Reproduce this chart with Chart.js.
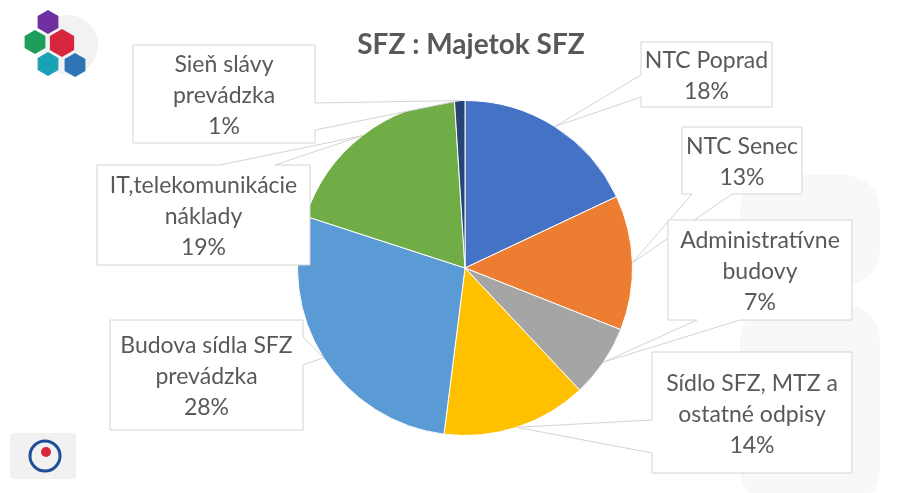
<!DOCTYPE html>
<html lang="sk">
<head>
    <meta charset="UTF-8">
    <title>SFZ : Majetok SFZ</title>
    <script src="https://cdn.jsdelivr.net/npm/chart.js"></script>
    <style>
        html, body {
            margin: 0;
            padding: 0;
            background: #ffffff;
        }
        #graf {
            display: block;
        }
    </style>
</head>
<body>
    <canvas id="graf" width="897" height="493"></canvas>

    <script>
        // Dáta grafu
        const kategorie = [
            ['NTC Poprad'],
            ['NTC Senec'],
            ['Administratívne', 'budovy'],
            ['Sídlo SFZ, MTZ a', 'ostatné odpisy'],
            ['Budova sídla SFZ', 'prevádzka'],
            ['IT,telekomunikácie', 'náklady'],
            ['Sieň slávy', 'prevádzka']
        ];
        const hodnoty = [18, 13, 7, 14, 28, 19, 1];
        const farby = ['#4472C4', '#ED7D31', '#A5A5A5', '#FFC000', '#5B9BD5', '#70AD47', '#264478'];

        // Rozmiestnenie popisiek (box x0, y0, x1, y1, strana so šípkou, začiatok a koniec základne)
        const popisky = [
            { box: [641, 42, 772, 107],  strana: 'left',   od: 75,  po: 97 },
            { box: [682, 127, 802, 194], strana: 'bottom', od: 692, po: 732 },
            { box: [668, 220, 852, 320], strana: 'bottom', od: 697, po: 740 },
            { box: [652, 352, 852, 473], strana: 'left',   od: 420, po: 453 },
            { box: [110, 320, 303, 430], strana: 'right',  od: 337, po: 365 },
            { box: [97, 165, 310, 265],  strana: 'top',    od: 220, po: 275 },
            { box: [133, 45, 315, 143],  strana: 'right',  od: 103, po: 130 }
        ];

        const pismo = 'Lato, "DejaVu Sans", sans-serif';
        const sedaText = '#595959';

        function hexagon(ctx, x, y, r, farba) {
            ctx.beginPath();
            for (let i = 0; i < 6; i++) {
                const a = Math.PI / 6 + i * Math.PI / 3;
                const px = x + r * Math.cos(a);
                const py = y + r * Math.sin(a);
                if (i === 0) ctx.moveTo(px, py); else ctx.lineTo(px, py);
            }
            ctx.closePath();
            ctx.fillStyle = farba;
            ctx.fill();
        }

        // Pozadie, logá a nadpis
        const pozadie = {
            id: 'pozadie',
            beforeDraw(chart) {
                const ctx = chart.ctx;
                ctx.save();
                ctx.fillStyle = '#ffffff';
                ctx.fillRect(0, 0, chart.width, chart.height);

                // jemný vodoznak vpravo
                ctx.fillStyle = '#f8f8f8';
                [[740, 175, 140, 110], [740, 305, 140, 200]].forEach(r => {
                    ctx.beginPath();
                    ctx.roundRect(r[0], r[1], r[2], r[3], 35);
                    ctx.fill();
                });

                // logo vľavo hore
                ctx.fillStyle = '#f2f2f2';
                ctx.beginPath();
                ctx.arc(68, 45, 30, 0, Math.PI * 2);
                ctx.fill();
                hexagon(ctx, 48, 22, 12, '#7030A0');
                hexagon(ctx, 35, 42, 12, '#1E9E5A');
                hexagon(ctx, 62, 43, 14, '#D7263D');
                hexagon(ctx, 48, 64, 12, '#1BA3B5');
                hexagon(ctx, 75, 65, 12, '#2E75B6');

                // logo vľavo dole
                ctx.fillStyle = '#f1f1f1';
                ctx.beginPath();
                ctx.roundRect(10, 433, 66, 46, 4);
                ctx.fill();
                ctx.strokeStyle = '#1F4E9A';
                ctx.lineWidth = 3;
                ctx.beginPath();
                ctx.arc(45, 456, 15, 0, Math.PI * 2);
                ctx.stroke();
                ctx.fillStyle = '#D7263D';
                ctx.beginPath();
                ctx.arc(46, 452, 5, 0, Math.PI * 2);
                ctx.fill();

                // nadpis
                ctx.fillStyle = sedaText;
                ctx.font = 'bold 28px ' + pismo;
                ctx.textAlign = 'center';
                ctx.textBaseline = 'alphabetic';
                ctx.fillText('SFZ : Majetok SFZ', 471, 54);
                ctx.restore();
            }
        };

        // Popisky s výbežkom k výsekom
        const bubliny = {
            id: 'bubliny',
            afterDatasetsDraw(chart) {
                const ctx = chart.ctx;
                const oblúky = chart.getDatasetMeta(0).data;
                ctx.save();
                oblúky.forEach((arc, i) => {
                    const p = popisky[i];
                    const uhol = (arc.startAngle + arc.endAngle) / 2;
                    const tx = arc.x + arc.outerRadius * Math.cos(uhol);
                    const ty = arc.y + arc.outerRadius * Math.sin(uhol);
                    const [x0, y0, x1, y1] = p.box;

                    ctx.beginPath();
                    ctx.moveTo(x0, y0);
                    if (p.strana === 'top') { ctx.lineTo(p.od, y0); ctx.lineTo(tx, ty); ctx.lineTo(p.po, y0); }
                    ctx.lineTo(x1, y0);
                    if (p.strana === 'right') { ctx.lineTo(x1, p.od); ctx.lineTo(tx, ty); ctx.lineTo(x1, p.po); }
                    ctx.lineTo(x1, y1);
                    if (p.strana === 'bottom') { ctx.lineTo(p.po, y1); ctx.lineTo(tx, ty); ctx.lineTo(p.od, y1); }
                    ctx.lineTo(x0, y1);
                    if (p.strana === 'left') { ctx.lineTo(x0, p.po); ctx.lineTo(tx, ty); ctx.lineTo(x0, p.od); }
                    ctx.closePath();
                    ctx.fillStyle = '#ffffff';
                    ctx.fill();
                    ctx.strokeStyle = '#d4d4d4';
                    ctx.lineWidth = 1;
                    ctx.stroke();

                    const riadky = kategorie[i].concat([hodnoty[i] + '%']);
                    const cx = (x0 + x1) / 2;
                    const cy = (y0 + y1) / 2 + 2;
                    ctx.fillStyle = sedaText;
                    ctx.font = '23px ' + pismo;
                    ctx.textAlign = 'center';
                    ctx.textBaseline = 'middle';
                    riadky.forEach((t, j) => {
                        ctx.fillText(t, cx, cy + (j - (riadky.length - 1) / 2) * 31);
                    });
                });
                ctx.restore();
            }
        };

        const ctx = document.getElementById('graf').getContext('2d');
        const graf = new Chart(ctx, {
            type: 'pie',
            data: {
                labels: kategorie,
                datasets: [{
                    data: hodnoty,
                    backgroundColor: farby,
                    borderColor: '#ffffff',
                    borderWidth: 1
                }]
            },
            options: {
                responsive: false,
                animation: false,
                layout: {
                    padding: { top: 100, bottom: 57, left: 297, right: 264 }
                },
                plugins: {
                    legend: { display: false },
                    tooltip: { enabled: false }
                }
            },
            plugins: [pozadie, bubliny]
        });
    </script>
</body>
</html>
